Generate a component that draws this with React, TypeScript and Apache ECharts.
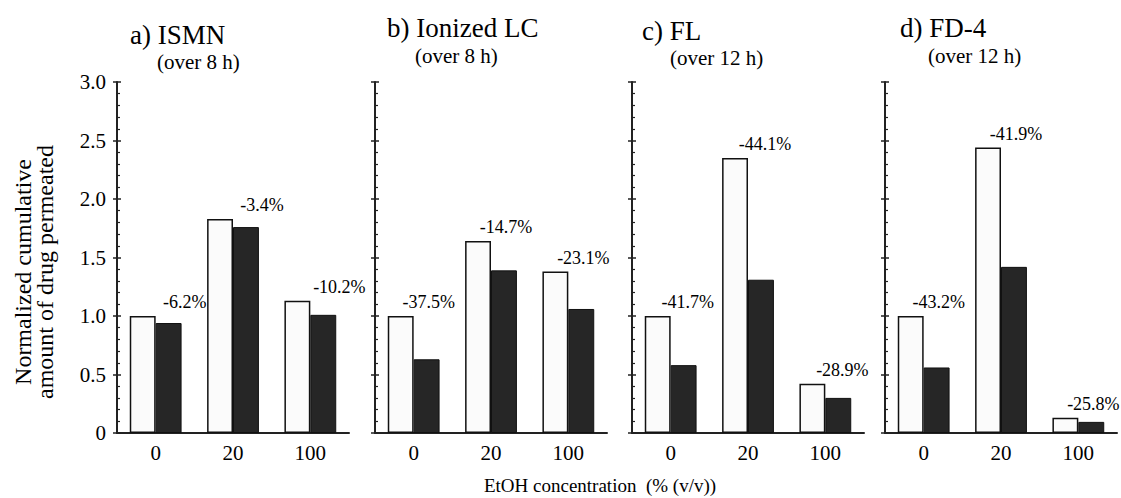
import React, { useEffect, useRef } from "react";
import * as echarts from "echarts";

const categories = ["0", "20", "100"];
const panelTitles = ["a) ISMN", "b) Ionized LC", "c) FL", "d) FD-4"];
const panelSubtitles = ["(over 8 h)", "(over 8 h)", "(over 12 h)", "(over 12 h)"];

const controlA = [1.0, 1.83, 1.13];
const treatedA = [0.94, 1.76, 1.01];
const changeA = ["-6.2%", "-3.4%", "-10.2%"];

const controlB = [1.0, 1.64, 1.38];
const treatedB = [0.63, 1.39, 1.06];
const changeB = ["-37.5%", "-14.7%", "-23.1%"];

const controlC = [1.0, 2.35, 0.42];
const treatedC = [0.58, 1.31, 0.3];
const changeC = ["-41.7%", "-44.1%", "-28.9%"];

const controlD = [1.0, 2.44, 0.13];
const treatedD = [0.56, 1.42, 0.095];
const changeD = ["-43.2%", "-41.9%", "-25.8%"];

const yMin = 0;
const yMax = 3;
const yInterval = 0.5;

const yAxisTitle = "Normalized cumulative\namount of drug permeated";
const xAxisTitle = "EtOH concentration  (% (v/v))";

const FONT = "'Liberation Serif', 'Times New Roman', serif";

export default function App() {
  const ref = useRef<HTMLDivElement>(null);

  useEffect(() => {
    if (!ref.current) return;
    const chart = echarts.init(ref.current, undefined, { renderer: "svg" });

    const controls = [controlA, controlB, controlC, controlD];
    const treated = [treatedA, treatedB, treatedC, treatedD];
    const changes = [changeA, changeB, changeC, changeD];

    const gridLefts = [117, 375, 632, 885];
    const labelShift = [42, 28, 30, 28];
    const titlePos = [
      [130, 35],
      [387, 28],
      [642, 31],
      [900, 28],
    ];
    const subPos = [
      [157, 62],
      [415, 56],
      [670, 58],
      [928, 56],
    ];

    const axisColor = "#222";

    const grids: any[] = [];
    const xAxes: any[] = [];
    const yAxes: any[] = [];
    const series: any[] = [];
    const graphics: any[] = [];

    for (let k = 0; k < 4; k++) {
      grids.push({ left: gridLefts[k], top: 82, width: 232, height: 351 });
      xAxes.push({
        type: "category",
        gridIndex: k,
        data: categories,
        axisLine: { lineStyle: { color: axisColor, width: 2 } },
        axisTick: { inside: true, length: 4, lineStyle: { color: axisColor, width: 1.5 } },
        axisLabel: { color: "#000", fontFamily: FONT, fontSize: 21, margin: 9 },
        splitLine: { show: false },
      });
      yAxes.push({
        type: "value",
        gridIndex: k,
        position: "left",
        min: yMin,
        max: yMax,
        interval: yInterval,
        axisLine: { show: true, lineStyle: { color: axisColor, width: 2 } },
        axisTick: { show: true, length: 4, lineStyle: { color: axisColor, width: 1.5 } },
        axisLabel: {
          show: k === 0,
          color: "#000",
          fontFamily: FONT,
          fontSize: 21,
          margin: 11,
          formatter: (v: number) => (v === 0 ? "0" : v.toFixed(1)),
        },
        splitLine: { show: false },
      });
      yAxes.push({
        type: "value",
        gridIndex: k,
        position: "left",
        min: yMin,
        max: yMax,
        interval: yInterval,
        axisLine: { show: false },
        axisTick: { show: true, inside: true, length: 4, lineStyle: { color: axisColor, width: 1.5 } },
        minorTick: { show: true, splitNumber: 5, length: 3, lineStyle: { color: axisColor, width: 1.2 } },
        axisLabel: { show: false },
        splitLine: { show: false },
      });

      const labels = changes[k];
      series.push({
        type: "bar",
        xAxisIndex: k,
        yAxisIndex: 2 * k,
        data: controls[k],
        barGap: "0%",
        barCategoryGap: "33%",
        itemStyle: { color: "#fbfbfb", borderColor: "#111", borderWidth: 1.5 },
        label: {
          show: true,
          position: "top",
          distance: 5,
          offset: [labelShift[k], 0],
          color: "#000",
          fontFamily: FONT,
          fontSize: 18,
          formatter: (p: any) => labels[p.dataIndex],
        },
        z: 2,
      });
      series.push({
        type: "bar",
        xAxisIndex: k,
        yAxisIndex: 2 * k,
        data: treated[k],
        barGap: "0%",
        barCategoryGap: "33%",
        itemStyle: { color: "#262626", borderColor: "#111", borderWidth: 1 },
        z: 2,
      });

      graphics.push({
        type: "text",
        x: titlePos[k][0],
        y: titlePos[k][1],
        style: {
          text: panelTitles[k],
          fontFamily: FONT,
          fontSize: 27,
          fill: "#000",
          textAlign: "left",
          textVerticalAlign: "middle",
        },
      });
      graphics.push({
        type: "text",
        x: subPos[k][0],
        y: subPos[k][1],
        style: {
          text: panelSubtitles[k],
          fontFamily: FONT,
          fontSize: 21,
          fill: "#000",
          textAlign: "left",
          textVerticalAlign: "middle",
        },
      });
    }

    graphics.push({
      type: "text",
      x: 34,
      y: 272,
      rotation: Math.PI / 2,
      style: {
        text: yAxisTitle,
        fontFamily: FONT,
        fontSize: 24,
        lineHeight: 22,
        fill: "#000",
        textAlign: "center",
        textVerticalAlign: "middle",
      },
    });
    graphics.push({
      type: "text",
      x: 600,
      y: 485,
      style: {
        text: xAxisTitle,
        fontFamily: FONT,
        fontSize: 19,
        fill: "#000",
        textAlign: "center",
        textVerticalAlign: "middle",
      },
    });

    chart.setOption({
      animation: false,
      backgroundColor: "#fff",
      grid: grids,
      xAxis: xAxes,
      yAxis: yAxes,
      series,
      graphic: graphics,
    });

    return () => chart.dispose();
  }, []);

  return (
    <div
      ref={ref}
      style={{ position: "absolute", left: 0, top: 0, width: 1121, height: 498 }}
    />
  );
}
